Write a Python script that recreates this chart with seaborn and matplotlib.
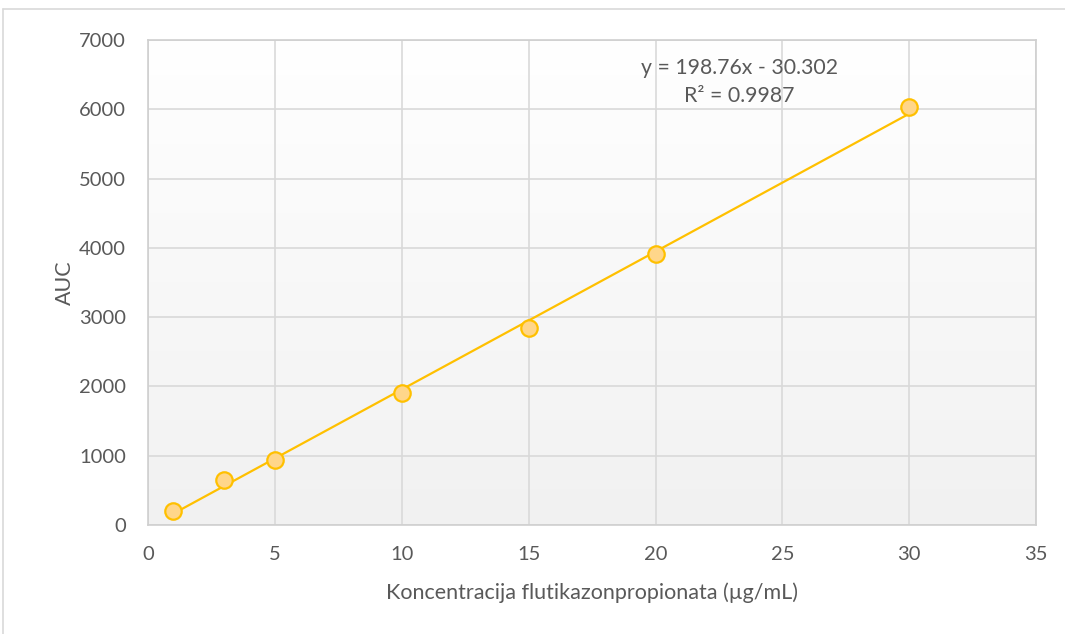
import numpy as np
import pandas as pd
import matplotlib
matplotlib.use("Agg")
import matplotlib.pyplot as plt
import seaborn as sns

# ── Data ──────────────────────────────────────────────────────────────────
concentration = [1, 3, 5, 10, 15, 20, 30]          # µg/mL
auc_values    = [195, 655, 940, 1910, 2845, 3905, 6025]
x_ticks       = [0, 5, 10, 15, 20, 25, 30, 35]
y_ticks       = [0, 1000, 2000, 3000, 4000, 5000, 6000, 7000]
equation_text = "y = 198.76x - 30.302"
r2_text       = "R² = 0.9987"

df = pd.DataFrame({"conc": concentration, "auc": auc_values})

sns.set_theme(style="white")
plt.rcParams["font.family"] = ["Lato", "DejaVu Sans"]

text_col = "#595959"
grid_col = "#d9d9d9"
gold     = "#FFC000"

fig = plt.figure(figsize=(10.65, 6.34), dpi=100)
ax = fig.add_axes([0.139, 0.172, 0.834, 0.765])

# light vertical gradient behind the plot area (Excel style)
grad = np.linspace(0, 1, 256).reshape(-1, 1)
ax.imshow(grad, extent=[0, 1, 0, 1], transform=ax.transAxes,
          cmap=matplotlib.colors.LinearSegmentedColormap.from_list(
              "bg", ["#f1f1f1", "#ffffff"]),
          origin="lower", aspect="auto", zorder=0)

sns.regplot(data=df, x="conc", y="auc", ci=None, ax=ax,
            scatter_kws=dict(s=140, color="#FFD68A", edgecolors=gold,
                             linewidths=1.6, alpha=1, zorder=4),
            line_kws=dict(color=gold, lw=1.6, zorder=3))

ax.set_xlim(0, 35)
ax.set_ylim(0, 7000)
ax.set_xticks(x_ticks)
ax.set_yticks(y_ticks)
ax.grid(True, color=grid_col, lw=1.2, zorder=1)
ax.set_axisbelow(True)
for s in ax.spines.values():
    s.set_color("#cfcfcf")
    s.set_linewidth(1.2)

ax.tick_params(axis="both", labelsize=14.5, colors=text_col, length=0)
ax.tick_params(axis="y", pad=16)
ax.tick_params(axis="x", pad=15)
ax.set_xlabel("Koncentracija flutikazonpropionata (µg/mL)", fontsize=15.5,
              color=text_col, labelpad=14)
ax.set_ylabel("AUC", fontsize=15.5, color=text_col, labelpad=3)

ax.text(23.3, 6600, equation_text, ha="center", va="center",
        fontsize=15.3, color=text_col)
ax.text(23.3, 6190, r2_text, ha="center", va="center",
        fontsize=15.3, color=text_col)

# outer chart frame
fig.add_artist(plt.Line2D([3 / 1065, 3 / 1065], [0, 1 - 9 / 634],
                          transform=fig.transFigure, color="#d9d9d9", lw=1.2))
fig.add_artist(plt.Line2D([3 / 1065, 1], [1 - 9 / 634, 1 - 9 / 634],
                          transform=fig.transFigure, color="#d9d9d9", lw=1.2))

fig.savefig("out.png", dpi=100)
